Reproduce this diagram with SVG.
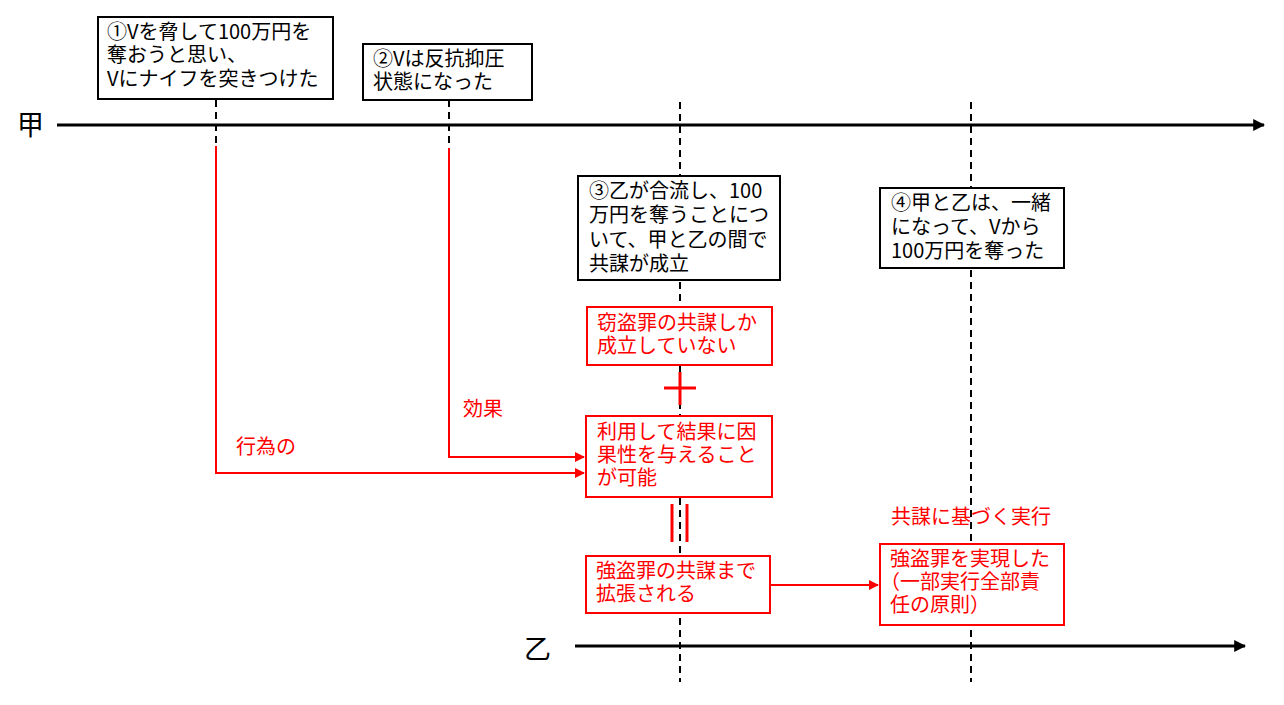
<svg xmlns="http://www.w3.org/2000/svg" width="1284" height="705" viewBox="0 0 1284 705">
<defs>
<style>
text{font-family:"Noto Sans CJK JP","Noto Sans",sans-serif;font-size:20px}
.k{fill:#000}
.r{fill:#ff0000}
.bk{fill:#fff;stroke:#000;stroke-width:2}
.br{fill:#fff;stroke:#ff0000;stroke-width:2}
.dash{stroke:#000;stroke-width:2;stroke-dasharray:7 5;fill:none}
.rl{stroke:#ff0000;stroke-width:2;fill:none}
.ax{stroke:#000;stroke-width:3;fill:none}
.big{font-size:27px}
</style>
<marker id="ak" viewBox="0 0 10 10" refX="9" refY="5" markerWidth="4" markerHeight="4" orient="auto" markerUnits="strokeWidth"><path d="M0,0L10,5L0,10z" fill="#000"/></marker>
<marker id="ar" viewBox="0 0 10 10" refX="9" refY="5" markerWidth="5" markerHeight="5" orient="auto" markerUnits="strokeWidth"><path d="M0,0L10,5L0,10z" fill="#ff0000"/></marker>
</defs>
<rect width="1284" height="705" fill="#fff"/>
<g id="axes">
<text class="k big" x="17" y="135">甲</text>
<line class="ax" x1="57" y1="125" x2="1264" y2="125" marker-end="url(#ak)"/>
<text class="k big" x="524" y="659">乙</text>
<line class="ax" x1="575" y1="646" x2="1245" y2="646" marker-end="url(#ak)"/>
</g>
<g id="connectors">
<line class="dash" x1="216" y1="100" x2="216" y2="145"/>
<line class="dash" x1="449" y1="100" x2="449" y2="145"/>
<line class="dash" x1="680" y1="102" x2="680" y2="682"/>
<line class="dash" x1="971" y1="102" x2="971" y2="682"/>
<polyline class="rl" points="216,146 216,473 584,473" marker-end="url(#ar)"/>
<polyline class="rl" points="449,148 449,457 584,457" marker-end="url(#ar)"/>
<line class="rl" x1="770" y1="585" x2="878" y2="585" marker-end="url(#ar)"/>
<text class="r" x="236" y="454">行為の</text>
<text class="r" x="463" y="416">効果</text>
<text class="r" x="891" y="524">共謀に基づく実行</text>
<g id="plus" stroke="#ff0000" stroke-width="3">
<line x1="664" y1="388" x2="696" y2="388"/>
<line x1="680" y1="372" x2="680" y2="405"/>
</g>
<g id="equals" stroke="#ff0000" stroke-width="3">
<line x1="672" y1="504" x2="672" y2="542"/>
<line x1="687" y1="504" x2="687" y2="542"/>
</g>
</g>
<g id="n1">
<rect class="bk" x="98" y="17" width="235" height="82"/>
<text class="k" x="107" y="39">①Vを脅して100万円を</text>
<text class="k" x="107" y="62">奪おうと思い、</text>
<text class="k" x="107" y="86">Vにナイフを突きつけた</text>
</g>
<g id="n2">
<rect class="bk" x="363" y="44" width="169" height="56"/>
<text class="k" x="373" y="66">②Vは反抗抑圧</text>
<text class="k" x="373" y="89">状態になった</text>
</g>
<g id="n3">
<rect class="bk" x="578" y="176" width="202" height="104"/>
<text class="k" x="589" y="198">③乙が合流し、100</text>
<text class="k" x="589" y="222">万円を奪うことにつ</text>
<text class="k" x="589" y="247">いて、甲と乙の間で</text>
<text class="k" x="589" y="271">共謀が成立</text>
</g>
<g id="n4">
<rect class="bk" x="880" y="188" width="184" height="80"/>
<text class="k" x="891" y="210">④甲と乙は、一緒</text>
<text class="k" x="891" y="234">になって、Vから</text>
<text class="k" x="891" y="258">100万円を奪った</text>
</g>
<g id="r1">
<rect class="br" x="587" y="307" width="185" height="58"/>
<text class="r" x="597" y="330">窃盗罪の共謀しか</text>
<text class="r" x="597" y="353">成立していない</text>
</g>
<g id="r2">
<rect class="br" x="586" y="416" width="186" height="81"/>
<text class="r" x="597" y="439">利用して結果に因</text>
<text class="r" x="597" y="462">果性を与えること</text>
<text class="r" x="597" y="485">が可能</text>
</g>
<g id="r3">
<rect class="br" x="586" y="556" width="184" height="57"/>
<text class="r" x="596" y="578">強盗罪の共謀まで</text>
<text class="r" x="596" y="601">拡張される</text>
</g>
<g id="r4">
<rect class="br" x="880" y="544" width="184" height="81"/>
<text class="r" x="890" y="566">強盗罪を実現した</text>
<text class="r" x="880" y="589">（一部実行全部責</text>
<text class="r" x="890" y="612">任の原則）</text>
</g>
</svg>
